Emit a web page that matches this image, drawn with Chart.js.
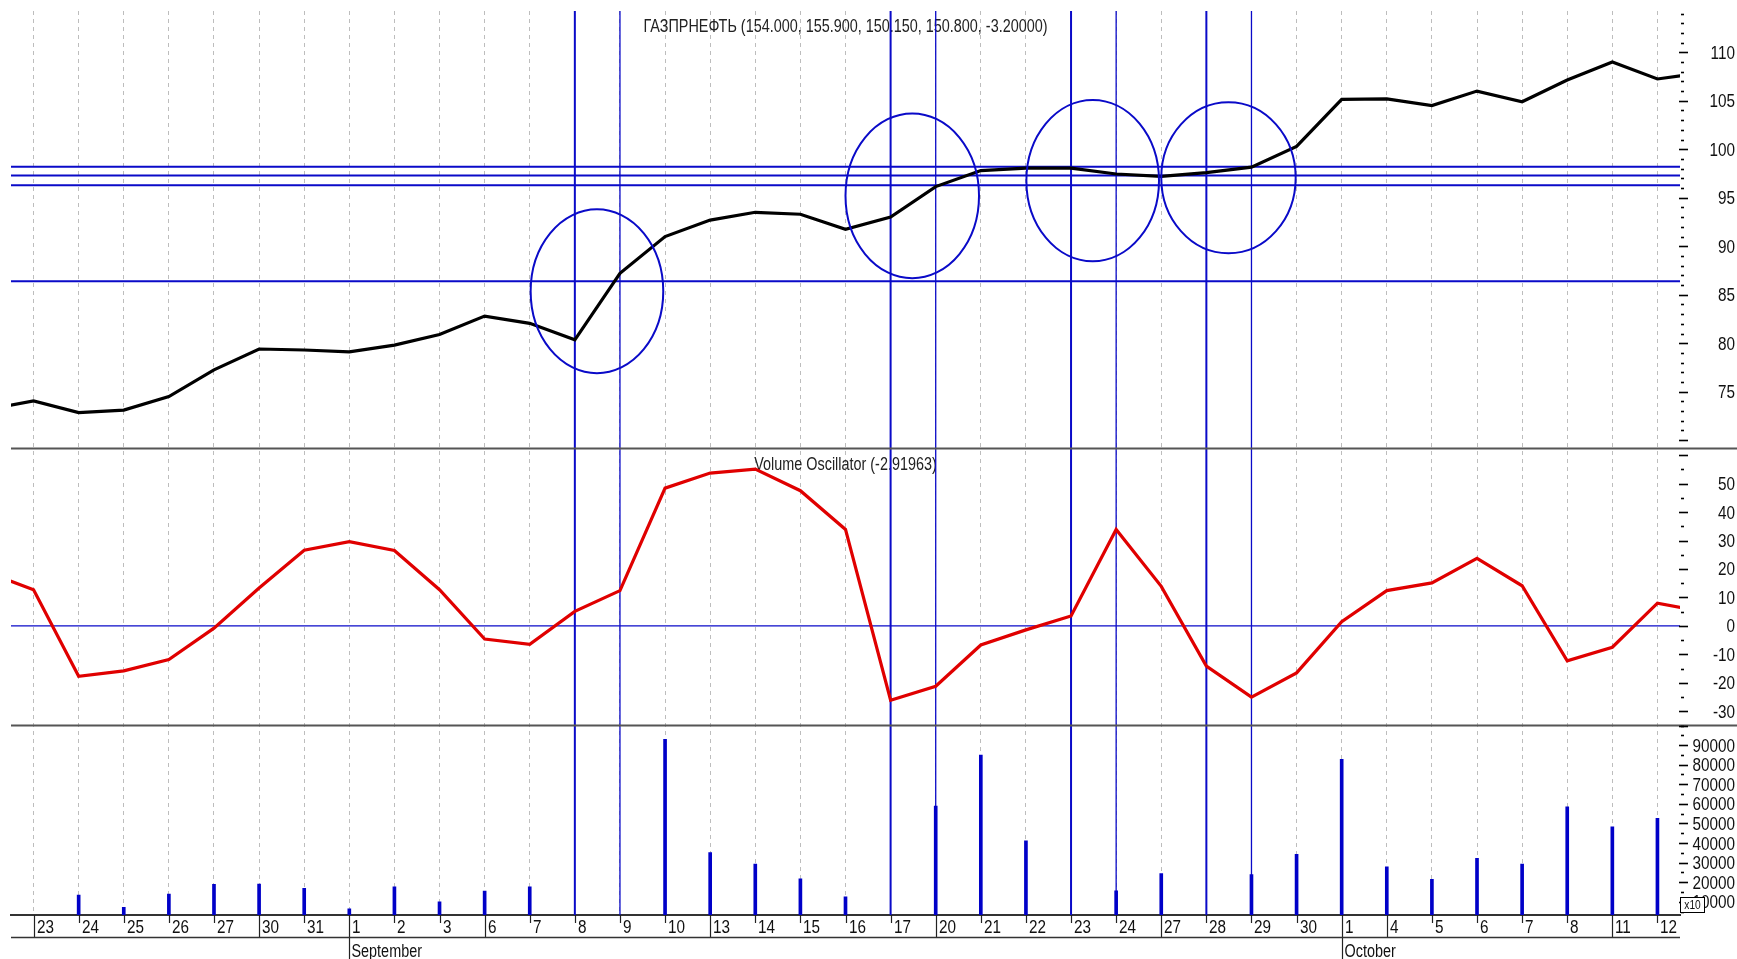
<!DOCTYPE html>
<html>
<head>
<meta charset="utf-8">
<title>ГАЗПРНЕФТЬ</title>
<script src="https://cdn.jsdelivr.net/npm/chart.js@4.4.1/dist/chart.umd.min.js"></script>
<style>
  html, body { margin: 0; padding: 0; background: #fff; overflow: hidden; }
  canvas { display: block; }
</style>
</head>
<body>
<canvas id="grafico" width="1737" height="959"></canvas>
<script>
// ===============================
// Data (first and last day sit just outside the visible range)
// ===============================
const dias = ["20", "23", "24", "25", "26", "27", "30", "31",
  "1", "2", "3", "6", "7", "8", "9", "10", "13", "14", "15", "16", "17",
  "20", "21", "22", "23", "24", "27", "28", "29", "30",
  "1", "4", "5", "6", "7", "8", "11", "12", "13"];

const precio = [73.2, 74.05, 72.85, 73.1, 74.5, 77.25, 79.4, 79.3,
  79.1, 79.8, 80.9, 82.8, 82.05, 80.35, 87.2, 91.0, 92.7, 93.5, 93.3, 91.75, 93.0,
  96.15, 97.8, 98.05, 98.05, 97.45, 97.2, 97.6, 98.15, 100.3,
  105.15, 105.2, 104.5, 106.0, 104.9, 107.15, 109.0, 107.25, 107.9];

const oscilador = [18.7, 12.7, -17.7, -15.8, -11.8, -0.8, 13.3, 26.6,
  29.6, 26.5, 12.7, -4.6, -6.5, 5.1, 12.4, 48.4, 53.7, 55.1, 47.5, 33.9, -26.1,
  -21.2, -6.7, -1.4, 3.5, 33.9, 13.9, -14.1, -25.0, -16.5,
  1.5, 12.4, 15.1, 23.7, 14.1, -12.3, -7.5, 8.0, 5.1];

// null = hidden under a marker line
const volumen = [null, 3000, 13500, 7200, 14000, 18900, 19100, 16900,
  6500, 17700, 10000, 15500, 17700, null, null, 92900, 35100, 29300, 21800, 12600, null,
  58900, 84900, 41200, null, 15600, 24400, null, 23900, 34200,
  82700, 27900, 21500, 32200, 29300, 58500, 48300, 52600, null];

const mesInicio = [8, 30];
const mesNombre = ["September", "October"];

const ticksPrecio = [75, 80, 85, 90, 95, 100, 105, 110];
const ticksOsc = [-30, -20, -10, 0, 10, 20, 30, 40, 50];
const ticksVol = [10000, 20000, 30000, 40000, 50000, 60000, 70000, 80000, 90000];

// annotations drawn on the price panel
const nivelesPrecio = [98.2, 97.3, 96.3, 86.4];
const diasMarcados = [13, 14, 20, 21, 24, 25, 27, 28];
const elipseX = [13.49, 20.48, 24.48, 27.49];
const elipseY = [85.36, 95.2, 96.76, 97.06];
const elipseRX = [1.47, 1.48, 1.47, 1.49];
const elipseRY = [8.45, 8.5, 8.32, 7.79];

const tituloPrecio = "ГАЗПРНЕФТЬ (154.000, 155.900, 150.150, 150.800, -3.20000)";
const tituloOsc = "Volume Oscillator (-2.91963)";

const AZUL = "#0a0ac8";

// ===============================
// Font: a narrow face if there is one, else squeeze Liberation Sans
// ===============================
function elegirFuente() {
  const c = document.createElement("canvas").getContext("2d");
  const candidatas = ["Liberation Sans Narrow", "Arial Narrow", "DejaVu Sans Condensed"];
  for (const f of candidatas) {
    c.font = `18px "${f}"`;
    if (c.measureText("90000").width < 44) return { family: `"${f}", sans-serif`, num: 1, letras: 1 };
  }
  return { family: '"Liberation Sans", Arial, sans-serif', num: 0.85, letras: 0.8 };
}
const fuente = elegirFuente();
const FUENTE = `18px ${fuente.family}`;

Chart.defaults.font.family = fuente.family;
Chart.defaults.font.size = 18;

// ===============================
// Drawing helpers
// ===============================
function linea(ctx, x1, y1, x2, y2) {
  ctx.beginPath();
  ctx.moveTo(x1, y1);
  ctx.lineTo(x2, y2);
  ctx.stroke();
}

function texto(ctx, str, x, y, align, k = fuente.num) {
  ctx.save();
  ctx.translate(x, y);
  ctx.scale(k, 1);
  ctx.textAlign = align;
  ctx.textBaseline = "alphabetic";
  ctx.fillText(str, 0, 0);
  ctx.restore();
}

// ===============================
// Plugin: titles, markers, ellipses, axis details
// ===============================
const anotaciones = {
  id: "anotaciones",
  beforeDatasetsDraw(chart) {
    const { ctx, chartArea: a, scales: { x, yP, yO } } = chart;
    ctx.save();
    ctx.font = FUENTE;
    ctx.fillStyle = "#222";
    const cx = (a.left + a.right) / 2;
    texto(ctx, tituloPrecio, cx, yP.top + 20.5, "center", fuente.letras);
    texto(ctx, tituloOsc, cx, yO.top + 21, "center", fuente.letras);

    ctx.strokeStyle = AZUL;
    ctx.lineWidth = 2;
    nivelesPrecio.forEach(v => {
      const y = yP.getPixelForValue(v);
      linea(ctx, a.left, y, a.right, y);
    });
    ctx.lineWidth = 1.2;
    const y0 = yO.getPixelForValue(0);
    linea(ctx, a.left, y0, a.right, y0);

    diasMarcados.forEach((d, i) => {
      ctx.lineWidth = i % 2 === 0 ? 2 : 1.3;
      const px = x.getPixelForValue(d);
      linea(ctx, px, a.top, px, a.bottom);
    });
    ctx.restore();
  },
  afterDatasetsDraw(chart) {
    const { ctx, scales: { x, yP } } = chart;
    ctx.save();
    ctx.strokeStyle = AZUL;
    ctx.lineWidth = 2;
    elipseX.forEach((ex, i) => {
      const cx = x.getPixelForValue(ex);
      const cy = yP.getPixelForValue(elipseY[i]);
      const rx = x.getPixelForValue(ex + elipseRX[i]) - cx;
      const ry = cy - yP.getPixelForValue(elipseY[i] + elipseRY[i]);
      ctx.beginPath();
      ctx.ellipse(cx, cy, rx, ry, 0, 0, Math.PI * 2);
      ctx.stroke();
    });
    ctx.restore();
  },
  afterDraw(chart) {
    const { ctx, chartArea: a, scales: { x, yP, yO, yV } } = chart;
    ctx.save();
    ctx.font = FUENTE;
    ctx.fillStyle = "#111";

    // day ticks (short / week start / month start) and their labels
    ctx.strokeStyle = "#222";
    ctx.lineWidth = 1.2;
    for (let i = 1; i < dias.length; i++) {
      if (i < x.min || i > x.max) continue;
      const d = +dias[i], p = +dias[i - 1];
      const px = Math.round(x.getPixelForValue(i)) + 0.5;
      let fin = a.bottom + 8;
      if (d < p) fin = chart.height;
      else if (d - p > 1) fin = a.bottom + 23;
      linea(ctx, px, a.bottom, px, fin);
      texto(ctx, dias[i], px + 2.5, a.bottom + 17.5, "left");
      const m = mesInicio.indexOf(i);
      if (m >= 0) texto(ctx, mesNombre[m], px + 2, a.bottom + 42, "left", fuente.letras);
    }
    ctx.lineWidth = 1.5;
    ctx.strokeStyle = "#333";
    linea(ctx, a.left, a.bottom + 22.5, a.right, a.bottom + 22.5);

    // panel separators
    ctx.strokeStyle = "#555";
    ctx.lineWidth = 2;
    [yP.bottom, yO.bottom].forEach(y => linea(ctx, a.left, y, chart.width, y));

    // right axis tick marks (major / minor)
    ctx.strokeStyle = "#000";
    ctx.lineWidth = 1.6;
    const marcas = (s, paso, mayor) => {
      for (let v = Math.ceil(s.min / paso) * paso; v <= s.max; v += paso) {
        const y = Math.round(s.getPixelForValue(v)) + 0.5;
        if (v % mayor === 0) linea(ctx, a.right - 1, y, a.right + 8, y);
        else linea(ctx, a.right + 1, y, a.right + 4, y);
      }
    };
    marcas(yP, 1, 5);
    marcas(yO, 5, 10);
    marcas(yV, 5000, 10000);

    // right axis labels
    const etiquetas = (s, valores) => valores.forEach(v => {
      texto(ctx, String(v), chart.width - 2, s.getPixelForValue(v) + 6.5, "right");
    });
    etiquetas(yP, ticksPrecio);
    etiquetas(yO, ticksOsc);
    etiquetas(yV, ticksVol);

    // volume multiplier box
    const bx = a.right, by = a.bottom - 18;
    ctx.fillStyle = "#fff";
    ctx.fillRect(bx, by, 24, 15);
    ctx.lineWidth = 1;
    ctx.strokeRect(bx + 0.5, by + 0.5, 24, 15);
    ctx.fillStyle = "#111";
    ctx.font = `12px ${fuente.family}`;
    texto(ctx, "x10", bx + 12.5, by + 12, "center");
    ctx.restore();
  }
};

// ===============================
// Chart
// ===============================
const yEje = (min, max, peso) => ({
  type: "linear",
  position: "right",
  stack: "paneles",
  stackWeight: peso,
  min, max,
  grid: { display: false, drawTicks: false },
  border: { display: false },
  ticks: { display: false },
  afterFit: s => { s.width = 57; }
});

new Chart(document.getElementById("grafico"), {
  type: "line",
  data: {
    labels: dias.map((d, i) => i),
    datasets: [
      {
        label: "Precio",
        data: precio,
        yAxisID: "yP",
        borderColor: "#000",
        borderWidth: 3.2,
        pointRadius: 0,
        tension: 0,
        clip: 0
      },
      {
        label: "Volume Oscillator",
        data: oscilador,
        yAxisID: "yO",
        borderColor: "#e00000",
        borderWidth: 3.2,
        pointRadius: 0,
        tension: 0,
        clip: 0
      },
      {
        type: "bar",
        label: "Volumen",
        data: volumen,
        yAxisID: "yV",
        backgroundColor: "#0000c8",
        barThickness: 3,
        clip: 0
      }
    ]
  },
  options: {
    responsive: false,
    devicePixelRatio: 1,
    animation: false,
    events: [],
    layout: { padding: { left: 11, top: 11, right: 0, bottom: 0 } },
    plugins: { legend: { display: false }, tooltip: { enabled: false } },
    scales: {
      x: {
        type: "linear",
        min: 0.5,
        max: 37.5,
        offset: false,
        grid: { color: "#bdbdbd", lineWidth: 1, drawTicks: false, offset: false },
        border: { display: true, color: "#333", width: 2, dash: [4, 4] },
        ticks: { display: false, autoSkip: false },
        // one grid line per trading day
        afterBuildTicks: s => {
          s.ticks = dias.map((d, i) => ({ value: i })).filter(t => t.value > s.min && t.value < s.max);
        },
        afterFit: s => { s.height = 44; }
      },
      yP: yEje(69.13, 114.26, 437.6),
      yO: yEje(-35.0, 62.3, 276.9),
      yV: yEje(3300, 100000, 189.5)
    }
  },
  plugins: [anotaciones]
});
</script>
</body>
</html>
